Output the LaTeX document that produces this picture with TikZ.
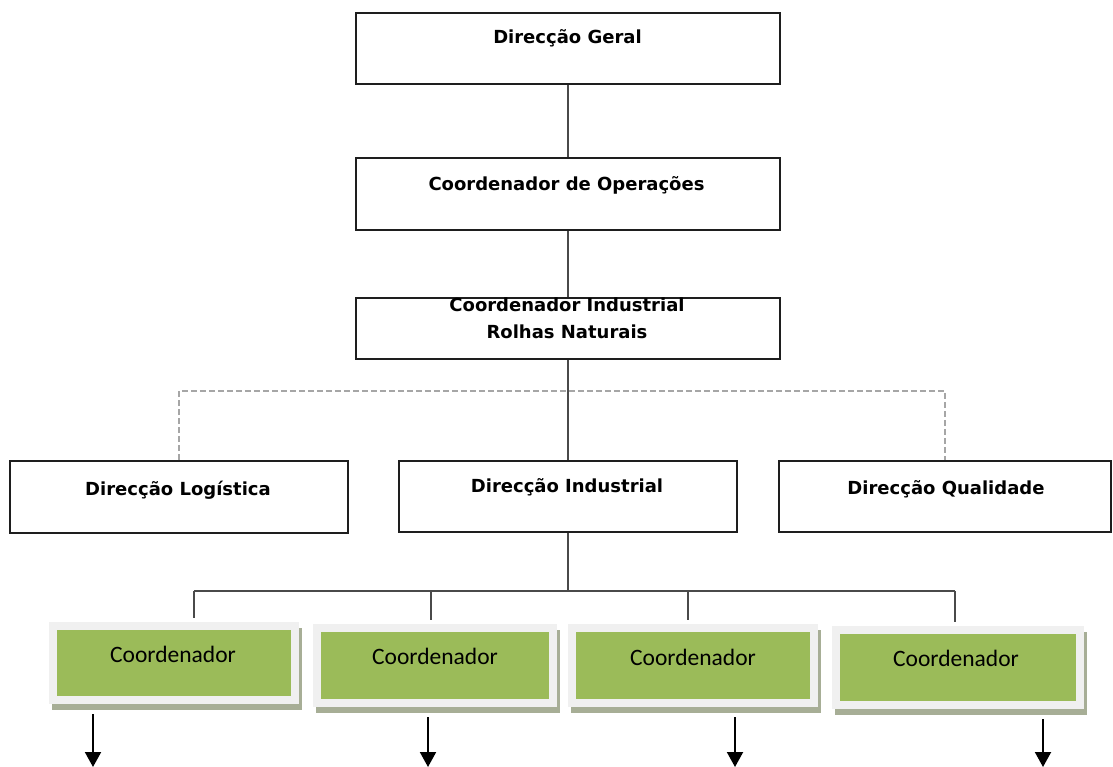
\documentclass[tikz,border=0pt]{standalone}
\usepackage{fontspec}
\setmainfont{DejaVu Sans}
\newfontfamily\leaffont{Carlito}
\usetikzlibrary{arrows.meta,calc}

\definecolor{boxline}{HTML}{1E1E1E}
\definecolor{linkgray}{HTML}{4A4A4A}
\definecolor{dashgray}{HTML}{A6A6A6}
\definecolor{leafgreen}{HTML}{9BBB59}
\definecolor{leafframe}{HTML}{F0F0F0}
\definecolor{leafshadow}{HTML}{A7AE96}

\begin{document}
\begin{tikzpicture}[x=1bp,y=-1bp,
  unit/.style={draw=boxline, line width=1.6bp, fill=white, inner sep=0pt},
  unitlabel/.style={font=\fontsize{18bp}{26bp}\selectfont\bfseries, anchor=base, inner sep=0pt},
  link/.style={draw=linkgray, line width=1.8bp},
  staff/.style={draw=dashgray, line width=1.6bp, dash pattern=on 6bp off 3bp},
  leaf/.style={fill=leafgreen, draw=leafframe, line width=8bp, inner sep=0pt,
    preaction={fill=leafshadow, draw=leafshadow, line width=8bp,
      transform canvas={xshift=3bp, yshift=-6bp}}},
  leaflabel/.style={font=\leaffont\fontsize{23.5bp}{28bp}\selectfont, anchor=base, inner sep=0pt},
  down/.style={draw=black, line width=2bp, -{Triangle[width=16bp,length=15bp]}}
]
\useasboundingbox (0,0) rectangle (1113,767);

% upper chain of command
\node[unit, minimum width=424bp, minimum height=71bp] (dg) at (568,48.5) {};
\node[unitlabel] (dgt) at (567.5,44) {Direcção Geral};
\node[unit, minimum width=424bp, minimum height=72bp] (co) at (568,194) {};
\node[unitlabel] (cot) at (566.5,190) {Coordenador de Operações};
\node[unit, minimum width=424bp, minimum height=61bp] (ci) at (568,328.5) {};
\node[unitlabel] (cit1) at (567,311.5) {Coordenador Industrial};
\node[unitlabel] (cit2) at (567,338) {Rolhas Naturais};

% directorates
\node[unit, minimum width=338bp, minimum height=72bp] (log) at (179,497) {};
\node[unitlabel] (logt) at (178,495) {Direcção Logística};
\node[unit, minimum width=338bp, minimum height=71bp] (ind) at (568,496.5) {};
\node[unitlabel] (indt) at (567,492) {Direcção Industrial};
\node[unit, minimum width=332bp, minimum height=71bp] (qual) at (945,496.5) {};
\node[unitlabel] (qualt) at (946,494) {Direcção Qualidade};

\draw[link] (dg.south) -- (co.north);
\draw[link] (co.south) -- (ci.north);
\draw[link] (ci.south) -- (ind.north);

\coordinate (staffbus) at (568,391);
\draw[staff] (log.north) -- (log.north |- staffbus) -- (qual.north |- staffbus) -- (qual.north);

% coordinators
\node[leaf, minimum width=242bp, minimum height=74bp] (g1) at (174,663) {};
\node[leaflabel] (g1t) at (173,662) {Coordenador};
\node[leaf, minimum width=236bp, minimum height=75bp] (g2) at (435,665.5) {};
\node[leaflabel] (g2t) at (435,664) {Coordenador};
\node[leaf, minimum width=242bp, minimum height=75bp] (g3) at (693,665.5) {};
\node[leaflabel] (g3t) at (693,665) {Coordenador};
\node[leaf, minimum width=244bp, minimum height=75bp] (g4) at (958,667.5) {};
\node[leaflabel] (g4t) at (956,666) {Coordenador};

\coordinate (leafbus) at (568,591);
\coordinate (t1) at (194,591);
\coordinate (t2) at (431,591);
\coordinate (t3) at (688,591);
\coordinate (t4) at (955,591);
\draw[link] (ind.south) -- (leafbus);
\draw[link] (t1) -- (t4);
\draw[link, shorten >=4bp] (t1) -- (t1 |- g1.north);
\draw[link, shorten >=4bp] (t2) -- (t2 |- g2.north);
\draw[link, shorten >=4bp] (t3) -- (t3 |- g3.north);
\draw[link, shorten >=4bp] (t4) -- (t4 |- g4.north);

% outgoing arrows
\coordinate (e1) at (93,767);
\coordinate (e2) at (428,767);
\coordinate (e3) at (735,767);
\coordinate (e4) at (1043,767);
\draw[down, shorten <=10bp] (e1 |- g1.south) -- (e1);
\draw[down, shorten <=10bp] (e2 |- g2.south) -- (e2);
\draw[down, shorten <=10bp] (e3 |- g3.south) -- (e3);
\draw[down, shorten <=10bp] (e4 |- g4.south) -- (e4);
\end{tikzpicture}
\end{document}
